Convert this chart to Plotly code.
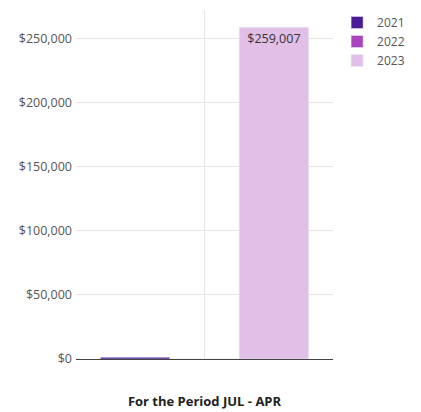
import plotly.graph_objects as go

categories = ["For the Period JUL - APR"]
years = ["2021", "2022", "2023"]
values_2021 = [1300]
values_2022 = [0]
values_2023 = [259007]
colors = ["#4b1a96", "#a845bb", "#e1bfe7"]

series = [values_2021, values_2022, values_2023]
fig = go.Figure()
for name, vals, col in zip(years, series, colors):
    fig.add_trace(go.Bar(
        x=categories, y=vals, name=name, marker_color=col,
        text=[f"${v:,.0f}" if v > 50000 else "" for v in vals],
        textposition="inside", insidetextanchor="end",
        textfont=dict(color="#333333", size=12.5),
        hoverinfo="skip",
    ))

fig.update_layout(
    width=413, height=404,
    margin=dict(l=68, r=88, t=0, b=53),
    paper_bgcolor="white", plot_bgcolor="white",
    font=dict(family="Open Sans", size=12.5, color="#555555"),
    barmode="group", bargap=0.19, bargroupgap=0,
    showlegend=True,
    legend=dict(x=1.016, y=1.006, xanchor="left", yanchor="top",
                font=dict(size=12, color="#555555"), itemwidth=30,
                tracegroupgap=0),
    uniformtext=dict(minsize=8, mode="show"),
)
fig.update_xaxes(
    showgrid=True, gridcolor="#e6e6e6", showticklabels=False,
    showline=True, linecolor="#444444", linewidth=1, ticks="",
    title=dict(text="<b>For the Period JUL - APR</b>", standoff=37,
               font=dict(size=13, color="#222222")),
)
fig.update_yaxes(
    range=[0, 272500], tickvals=[0, 50000, 100000, 150000, 200000, 250000],
    ticktext=["$0", "$50,000", "$100,000", "$150,000", "$200,000", "$250,000"],
    showgrid=True, gridcolor="#e6e6e6", zeroline=False, showline=False,
    ticks="", ticklabelstandoff=3,
)
fig.add_shape(type="line", xref="paper", yref="paper",
              x0=1.333, x1=1.333, y0=-0.16, y1=1.0,
              line=dict(color="#dddddd", width=1))
fig.write_html("out.html")
